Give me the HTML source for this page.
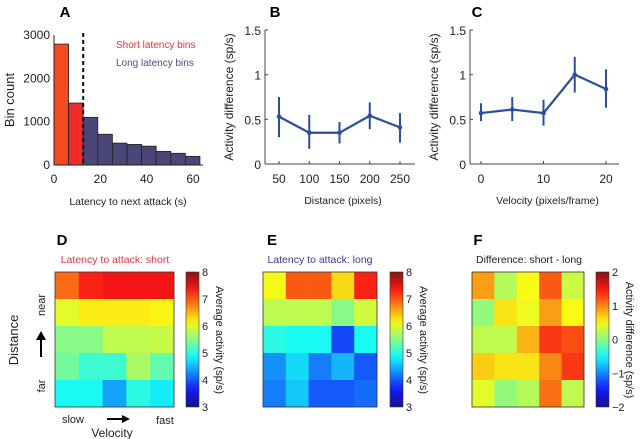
<!DOCTYPE html>
<html><head><meta charset="utf-8">
<style>
html,body{margin:0;padding:0;background:#fff;}
svg{display:block;font-family:"Liberation Sans",sans-serif;}
</style></head>
<body>
<svg id="fig" width="640" height="439" viewBox="0 0 640 439" xmlns="http://www.w3.org/2000/svg"></svg>
<script>
// Panel A data
const histBinEdges = [0, 6.3, 12.6, 18.9, 25.2, 31.5, 37.8, 44.1, 50.4, 56.7, 63];
const histCounts = [2790, 1430, 1100, 710, 505, 475, 435, 315, 270, 200];
const histXTicks = [0, 20, 40, 60];
const histYTicks = [0, 1000, 2000, 3000];
const histThreshold = 12.6;
// Panel B data
const distCategories = [50, 100, 150, 200, 250];
const distMeans = [0.53, 0.35, 0.35, 0.54, 0.41];
const distUpper = [0.75, 0.55, 0.47, 0.69, 0.57];
const distLower = [0.30, 0.17, 0.23, 0.39, 0.24];
// Panel C data
const velCategories = [0, 5, 10, 15, 20];
const velMeans = [0.57, 0.61, 0.57, 1.0, 0.84];
const velUpper = [0.68, 0.75, 0.72, 1.2, 1.06];
const velLower = [0.48, 0.48, 0.43, 0.8, 0.63];
const lineYTicks = [0, 0.5, 1, 1.5];
const lineYTickLabels = ["0", "0.5", "1", "1.5"];
const velXTicks = [0, 10, 20];
// Panels D/E/F data (rows: near -> far, cols: slow -> fast)
const shortActivity = [
  [6.9, 7.3, 7.4, 7.4, 7.4],
  [6.0, 6.2, 6.2, 6.2, 6.15],
  [5.5, 5.5, 5.8, 5.8, 5.85],
  [5.4, 5.1, 5.1, 5.7, 5.3],
  [4.9, 4.9, 4.4, 5.0, 4.8]];
const longActivity = [
  [6.1, 7.0, 7.0, 6.3, 7.3],
  [5.8, 5.8, 5.8, 5.5, 5.9],
  [5.0, 4.9, 4.9, 3.9, 4.9],
  [4.3, 4.7, 4.2, 4.5, 4.0],
  [4.2, 4.6, 4.0, 4.0, 4.1]];
const diffActivity = [
  [0.9, 0.2, 0.5, 1.2, 0.3],
  [0.05, 0.6, 0.45, 0.9, 0.5],
  [0.25, 0.25, 0.8, 1.35, 1.25],
  [0.7, 0.6, 0.6, 1.0, 1.35],
  [0.4, 0.05, 0.2, 1.1, 0.25]];
const actTicks = [3, 4, 5, 6, 7, 8];
const diffTicks = [-2, -1, 0, 1, 2];

const NS = "http://www.w3.org/2000/svg";
const svg = document.getElementById("fig");
function mk(tag, attrs, parent, name) {
  const e = document.createElementNS(NS, tag);
  for (const k in attrs) e.setAttribute(k, attrs[k]);
  
  
  (parent || svg).appendChild(e);
  return e;
}
function txt(s, x, y, opts, name) {
  const t = mk("text", Object.assign({x: x, y: y, "font-size": 11, fill: "#222", "text-anchor": "middle"}, opts || {}), svg, name);
  t.textContent = s;
  return t;
}
function jet(v) {
  v = Math.max(0, Math.min(1, v));
  const r = Math.max(0, Math.min(1, 1.5 - Math.abs(4 * v - 3)));
  const g = Math.max(0, Math.min(1, 1.5 - Math.abs(4 * v - 2)));
  const b = Math.max(0, Math.min(1, 1.5 - Math.abs(4 * v - 1)));
  const m = c => Math.round((c * 0.9 + 0.08) * 255);
  return "rgb(" + m(r) + "," + m(g) + "," + m(b) + ")";
}

// ---------- Panel A ----------
txt("A", 65, 17, {"font-size": 15, "font-weight": "bold", fill: "#000"}, "panel-a-label");
const ax = v => 54 + v * (139 / 60);
const ay = v => 165 - v * (130 / 3000);
for (let i = 0; i < histCounts.length; i++) {
  const x0 = ax(histBinEdges[i]), x1 = ax(histBinEdges[i + 1]);
  const fill = histBinEdges[i + 1] <= histThreshold ? (i === 0 ? "#f44a22" : "#ee2a2a") : "#4a4778";
  mk("rect", {x: x0, y: ay(histCounts[i]), width: x1 - x0, height: ay(0) - ay(histCounts[i]), fill: fill, stroke: "#222", "stroke-width": 0.8}, svg, "hist-bar");
}
mk("line", {x1: 54, y1: 35, x2: 54, y2: 165, stroke: "#222", "stroke-width": 1}, svg, "a-y-axis");
mk("line", {x1: 54, y1: 165, x2: 203, y2: 165, stroke: "#222", "stroke-width": 1}, svg, "a-x-axis");
mk("line", {x1: ax(histThreshold), y1: 33, x2: ax(histThreshold), y2: 165, stroke: "#111", "stroke-width": 2, "stroke-dasharray": "4,3"}, svg, "threshold-line");
histYTicks.forEach(v => { txt(String(v), 50, ay(v) + 4, {"text-anchor": "end", "font-size": 12}, "a-y-tick-label"); });
histXTicks.forEach(v => { txt(String(v), ax(v), 183, {"font-size": 12}, "a-x-tick-label"); });
txt("Latency to next attack (s)", 128, 205, {"font-size": 10.5}, "a-x-axis-title");
txt("Bin count", 10, 100, {"font-size": 13, transform: "rotate(-90 10 100)", dy: 4}, "a-y-axis-title");
txt("Short latency bins", 116, 48, {"text-anchor": "start", fill: "#e03040", "font-size": 10}, "legend-short");
txt("Long latency bins", 116, 66, {"text-anchor": "start", fill: "#4a4a8a", "font-size": 10}, "legend-long");

// ---------- Line panels ----------
function linePanel(cfg) {
  const {x0, xEnd, xLeft, xRight, cats, cMin, cMax, means, up, lo, xticks, label, lx, xtitle, pfx} = cfg;
  const sx = v => xLeft + (v - cMin) * (xRight - xLeft) / (cMax - cMin);
  const sy = v => 164 - v * (134 / 1.5);
  txt(label, lx, 17, {"font-size": 15, "font-weight": "bold", fill: "#000"}, pfx + "-panel-label");
  mk("line", {x1: x0, y1: 30, x2: x0, y2: 164, stroke: "#444"}, svg, pfx + "-y-axis");
  mk("line", {x1: x0, y1: 164, x2: xEnd, y2: 164, stroke: "#444"}, svg, pfx + "-x-axis");
  lineYTicks.forEach((v, i) => {
    mk("line", {x1: x0, y1: sy(v), x2: x0 + 3, y2: sy(v), stroke: "#444"}, svg, pfx + "-y-tick");
    txt(lineYTickLabels[i], x0 - 4, sy(v) + 5, {"text-anchor": "end", "font-size": 12}, pfx + "-y-tick-label");
  });
  xticks.forEach(v => {
    mk("line", {x1: sx(v), y1: 164, x2: sx(v), y2: 161, stroke: "#444"}, svg, pfx + "-x-tick");
    txt(String(v), sx(v), 183, {"font-size": 12}, pfx + "-x-tick-label");
  });
  let d = "";
  cats.forEach((c, i) => { d += (i ? "L" : "M") + sx(c) + "," + sy(means[i]); });
  mk("path", {d: d, fill: "none", stroke: "#2a4f9c", "stroke-width": 2.2}, svg, pfx + "-mean-line");
  cats.forEach((c, i) => {
    mk("line", {x1: sx(c), y1: sy(up[i]), x2: sx(c), y2: sy(lo[i]), stroke: "#2a4f9c", "stroke-width": 2}, svg, pfx + "-error-bar");
    mk("circle", {cx: sx(c), cy: sy(means[i]), r: 2.3, fill: "#2a4f9c"}, svg, pfx + "-point");
  });
  txt(xtitle, (x0 + xEnd) / 2 + 3, 204, {"font-size": 10.5}, pfx + "-x-axis-title");
  const yx = x0 - 36;
  txt("Activity difference (sp/s)", yx, 97, {"font-size": 12, transform: "rotate(-90 " + yx + " 97)", dy: 4}, pfx + "-y-axis-title");
}
linePanel({x0: 265, xEnd: 415, xLeft: 279, xRight: 400, cats: distCategories, cMin: 50, cMax: 250, means: distMeans, up: distUpper, lo: distLower, xticks: distCategories, label: "B", lx: 275, xtitle: "Distance (pixels)", pfx: "b"});
linePanel({x0: 470, xEnd: 619, xLeft: 481, xRight: 606, cats: velCategories, cMin: 0, cMax: 20, means: velMeans, up: velUpper, lo: velLower, xticks: velXTicks, label: "C", lx: 477, xtitle: "Velocity (pixels/frame)", pfx: "c"});

// ---------- Heatmaps ----------
function heat(cfg) {
  const {x0, x1, cbx, data, vmin, vmax, ticks, label, lx, title, tcolor, tx, cblabel, pfx} = cfg;
  const y0 = 272, y1 = 407;
  const cw = (x1 - x0) / 5, ch = (y1 - y0) / 5;
  txt(label, lx, 245, {"font-size": 15, "font-weight": "bold", fill: "#000"}, pfx + "-panel-label");
  txt(title, tx, 263, {"font-size": 10.5, fill: tcolor}, pfx + "-title");
  data.forEach((row, r) => row.forEach((v, c) => {
    mk("rect", {x: x0 + c * cw, y: y0 + r * ch, width: cw + 0.3, height: ch + 0.3, fill: jet((v - vmin) / (vmax - vmin))}, svg, pfx + "-cell");
  }));
  mk("rect", {x: x0, y: y0, width: x1 - x0, height: y1 - y0, fill: "none", stroke: "#333", "stroke-width": 0.8}, svg, pfx + "-frame");
  const gid = pfx + "grad";
  const defs = mk("defs", {}, svg, pfx + "-defs");
  const g = mk("linearGradient", {id: gid, x1: 0, y1: 1, x2: 0, y2: 0}, defs, pfx + "-gradient");
  for (let i = 0; i <= 20; i++) mk("stop", {offset: i / 20, "stop-color": jet(i / 20)}, g, "gradient-stop");
  mk("rect", {x: cbx, y: y0, width: 13, height: y1 - y0, fill: "url(#" + gid + ")", stroke: "#333", "stroke-width": 0.6}, svg, pfx + "-colorbar");
  ticks.forEach(v => {
    const y = y1 - (v - vmin) / (vmax - vmin) * (y1 - y0);
    txt(String(v).replace("-", "\u2212"), cbx + 16, y + 4, {"text-anchor": "start", "font-size": 11}, pfx + "-colorbar-tick-label");
  });
  if (cblabel) {
    const lx2 = cbx + 34;
    txt(cblabel, lx2, 340, {"font-size": 11, transform: "rotate(90 " + lx2 + " 340)", dy: 4}, pfx + "-colorbar-title");
  }
}
heat({x0: 55, x1: 174, cbx: 186, data: shortActivity, vmin: 3, vmax: 8, ticks: actTicks, label: "D", lx: 62, title: "Latency to attack: short", tcolor: "#e0353d", tx: 115, cblabel: "Average activity (sp/s)", pfx: "d"});
heat({x0: 263, x1: 377, cbx: 390, data: longActivity, vmin: 3, vmax: 8, ticks: actTicks, label: "E", lx: 272, title: "Latency to attack: long", tcolor: "#3a3a8a", tx: 320, cblabel: "Average activity (sp/s)", pfx: "e"});
heat({x0: 472, x1: 584, cbx: 596, data: diffActivity, vmin: -2, vmax: 2, ticks: diffTicks, label: "F", lx: 478, title: "Difference:  short - long", tcolor: "#222", tx: 529, cblabel: "Activity difference (sp/s)", pfx: "f"});

// D axes labels
txt("near", 41, 305, {"font-size": 11, transform: "rotate(-90 41 305)", dy: 4}, "near-label");
txt("far", 41, 386, {"font-size": 11, transform: "rotate(-90 41 386)", dy: 4}, "far-label");
mk("line", {x1: 41, y1: 357, x2: 41, y2: 338, stroke: "#000", "stroke-width": 2}, svg, "distance-arrow");
mk("path", {d: "M36,340 L41,331 L46,340 Z", fill: "#000"}, svg, "distance-arrow-head");
txt("Distance", 14, 340, {"font-size": 13, transform: "rotate(-90 14 340)", dy: 4}, "distance-axis-title");
txt("slow", 73, 423, {"font-size": 11}, "slow-label");
txt("fast", 165, 424, {"font-size": 11}, "fast-label");
mk("line", {x1: 107, y1: 419, x2: 124, y2: 419, stroke: "#000", "stroke-width": 2}, svg, "velocity-arrow");
mk("path", {d: "M122,415 L130,419 L122,423 Z", fill: "#000"}, svg, "velocity-arrow-head");
txt("Velocity", 112, 437, {"font-size": 12}, "velocity-axis-title");
</script>
</body></html>
